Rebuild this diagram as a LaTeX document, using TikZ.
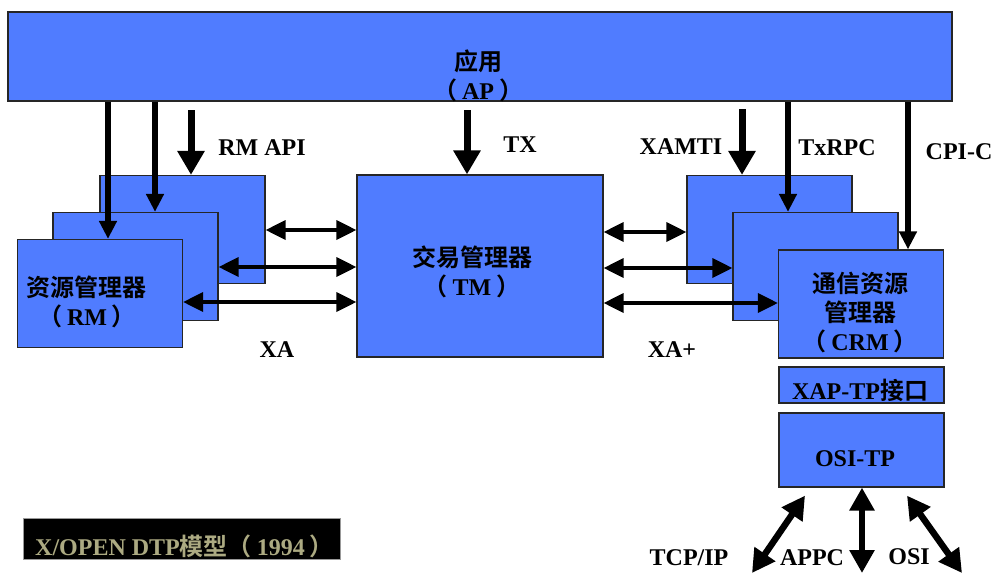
\documentclass[tikz,border=0pt]{standalone}
\usepackage{fontspec}
\setmainfont{Liberation Serif}
\newfontfamily\cjk{Noto Sans CJK SC}[BoldFont={Noto Sans CJK SC Bold}]
\usetikzlibrary{arrows.meta,calc}
\definecolor{apblue}{RGB}{80,124,255}
\definecolor{khaki}{RGB}{172,170,130}
\newcommand{\lpar}{{\cjk （}\kern5pt}
\newcommand{\rpar}{\kern5pt{\cjk ）}}

\tikzset{
  box/.style={draw=black!85, line width=1.2pt, fill=apblue, inner sep=0pt,
    minimum width=165pt, minimum height=108pt},
  txt/.style={font=\bfseries\fontsize{24}{29}\selectfont, align=center, inner sep=0pt},
  hboth/.style={line width=3.5pt, {Triangle[width=19pt,length=20pt]}-{Triangle[width=19pt,length=20pt]}},
  bigdown/.style={line width=7pt, -{Triangle[width=26pt,length=24pt]}},
  longdown/.style={line width=6pt, -{Triangle[width=17pt,length=18pt]}},
  netboth/.style={line width=6.5pt, {Triangle[width=24pt,length=23pt]}-{Triangle[width=24pt,length=23pt]}}
}

\begin{document}
\begin{tikzpicture}[x=1pt,y=-1pt]
\useasboundingbox (0,0) rectangle (993,576);
% application
\node[box, minimum width=944pt, minimum height=89pt] (ap) at (480,56.5) {};
% resource managers
\node[box] (rmC) at (182.5,229.5) {};
\node[box] (rmB) at (135.5,266.5) {};
\node[box] (rmA) at (100,293.5) {};
% transaction manager
\node[box, minimum width=246pt, minimum height=182pt] (tm) at (480,266) {};
% communication resource managers
\node[box] (crmC) at (769.5,229.5) {};
\node[box] (crmB) at (815.5,266.5) {};
\node[box] (crmA) at (861,304) {};
\node[box, minimum height=36pt] (xap) at (861.5,385) {};
\node[box, minimum height=74pt] (osi) at (861.5,450) {};
% caption
\node[fill=black, draw=black!40, minimum width=317pt, minimum height=41pt, inner sep=0pt] (dtpbox) at (181.5,538.5) {};

% AP -> RM
\draw[longdown] (ap.south -| 108,0) -- (rmA.north -| 108,0);
\draw[longdown] (ap.south -| 155,0) -- (rmB.north -| 155,0);
\coordinate (rmapi) at (191,110);
\draw[bigdown] (rmapi) -- (rmapi |- rmC.north);
% AP -> TM
\coordinate (tx) at (467,110);
\draw[bigdown] (tx) -- (tx |- tm.north);
% AP -> CRM
\coordinate (xamti) at (742,109);
\draw[bigdown] (xamti) -- (xamti |- crmC.north);
\draw[longdown] (ap.south -| 788,0) -- (crmB.north -| 788,0);
\draw[longdown] (ap.south -| 908,0) -- (crmA.north -| 908,0);

% XA and XA+
\foreach \y/\rm in {230/rmC,267/rmB,302/rmA}
  \draw[hboth] (\rm.east |- 0,\y) -- (tm.west |- 0,\y);
\foreach \y/\crm in {232/crmC,268/crmB,303/crmA}
  \draw[hboth] (tm.east |- 0,\y) -- (\crm.west |- 0,\y);

% network links
\coordinate (tcpip) at (752,573);
\coordinate (appc) at (862,573);
\coordinate (osilink) at (962,573);
\draw[netboth] ($(osi.south -| 805,0)+(0,8)$) -- (tcpip);
\draw[netboth] (osi.south -| appc) -- (appc);
\draw[netboth] ($(osi.south -| 907,0)+(0,8)$) -- (osilink);

% texts
\node[txt] (aptext) at (478,76) {{\cjk 应用}\\\lpar AP\rpar};
\node[txt] (rmtext) at (87,302) {{\cjk 资源管理器}\\\lpar RM\rpar};
\node[txt] (tmtext) at (472,271.5) {{\cjk 交易管理器}\\\lpar TM\rpar};
\node[txt] (crmtext) at (860,312) {{\cjk 通信资源}\\{\cjk 管理器}\\\lpar CRM\rpar};
\node[txt] (xaptext) at (860,390) {XAP-TP{\cjk 接口}};
\node[txt] (ositext) at (855,459) {OSI-TP};
\node[txt] (rmapilabel) at (262,148) {RM API};
\node[txt] (txlabel) at (520,145) {TX};
\node[txt] (xalabel) at (277,350) {XA};
\node[txt] (xamtilabel) at (681,147) {XAMTI};
\node[txt] (txrpclabel) at (837,148) {TxRPC};
\node[txt] (cpiclabel) at (959,152) {CPI-C};
\node[txt] (xaplabel) at (672,350) {XA+};
\node[txt] (tcpiplabel) at (689,558) {TCP/IP};
\node[txt] (appclabel) at (812,558) {APPC};
\node[txt] (osilabel) at (909,557) {OSI};
\node[txt, text=khaki, anchor=base west] (dtptext) at (35,555) {X/OPEN DTP{\cjk 模型}\lpar 1994\rpar};
\end{tikzpicture}
\end{document}
